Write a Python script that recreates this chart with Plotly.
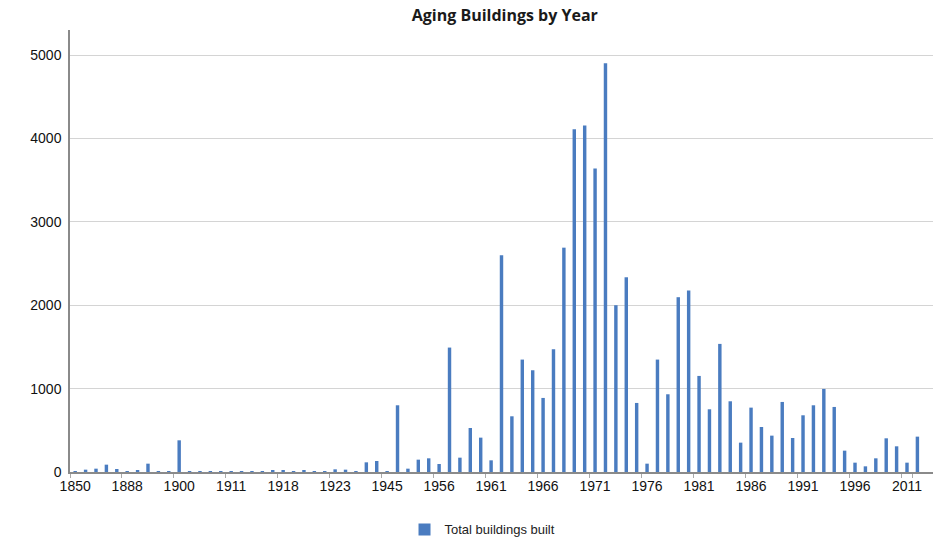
import plotly.graph_objects as go

years = [1850, 1860, 1870, 1875, 1880, 1888, 1890, 1895, 1897, 1899,
         1900, 1902, 1905, 1907, 1910, 1911, 1912, 1914, 1915, 1916,
         1918, 1919, 1920, 1921, 1922, 1923, 1925, 1928, 1930, 1940,
         1945, 1946, 1950, 1952, 1954,
         1956, 1957, 1958, 1959, 1960, 1961, 1962, 1963, 1964, 1965,
         1966, 1967, 1968, 1969, 1970, 1971, 1972, 1973, 1974, 1975,
         1976, 1977, 1978, 1979, 1980, 1981, 1982, 1983, 1984, 1985,
         1986, 1987, 1988, 1989, 1990, 1991, 1992, 1993, 1994, 1995,
         1996, 1998, 2000, 2003, 2005, 2011, 2012]

buildings = [5, 28, 40, 88, 36, 12, 20, 100, 1, 1,
             380, 1, 8, 1, 4, 1, 6, 1, 1, 20,
             20, 12, 15, 1, 12, 32, 28, 1, 116, 132,
             12, 800, 40, 148, 164,
             96, 1492, 172, 528, 412, 140, 2600, 668, 1348, 1220,
             888, 1472, 2690, 4110, 4155, 3640, 4900, 2000, 2335, 828,
             100, 1348, 932, 2096, 2176, 1152, 752, 1536, 848, 352,
             772, 540, 436, 840, 408, 680, 800, 996, 780, 256,
             112, 68, 164, 404, 308, 112, 424]

categories = [str(y) for y in years]
tick_vals = categories[::5]
tick_text = tick_vals

fig = go.Figure()
fig.add_trace(go.Bar(
    x=categories, y=buildings, name="Total buildings built",
    marker=dict(color="#4a7cc0", line=dict(width=0)),
    width=0.33,
))

fig.update_layout(
    width=940, height=539,
    paper_bgcolor="white", plot_bgcolor="white",
    margin=dict(l=70, r=7, t=30, b=67, autoexpand=False),
    title=dict(text="<b>Aging Buildings by Year</b>", x=0.537, xanchor="center",
               y=0.972, yanchor="middle",
               font=dict(family="Open Sans, Lato, sans-serif", size=16, color="#1a1a1a")),
    showlegend=True,
    legend=dict(orientation="h", x=0.478, xanchor="center", y=-0.13, yanchor="middle",
                font=dict(family="Liberation Sans, Arial, sans-serif", size=13, color="#222")),
    bargap=0.67,
)
fig.update_xaxes(
    type="category", tickmode="array", tickvals=tick_vals, ticktext=tick_text,
    range=[-0.5, 82.5], tickson="boundaries", tickangle=0, automargin=False,
    showline=True, linecolor="#8a8a8a", linewidth=1.5,
    ticks="outside", ticklen=4, tickcolor="#aaaaaa",
    showgrid=False,
    tickfont=dict(family="Liberation Sans, Arial, sans-serif", size=14, color="#111"),
)
fig.update_yaxes(
    range=[0, 5300], tickvals=[0, 1000, 2000, 3000, 4000, 5000],
    showline=True, linecolor="#8a8a8a", linewidth=1.5, automargin=False,
    showgrid=True, gridcolor="#d4d4d4", gridwidth=1,
    zeroline=False, ticks="", ticklabelstandoff=4,
    tickfont=dict(family="Liberation Sans, Arial, sans-serif", size=14, color="#111"),
)

fig.write_html("out.html", config={"displayModeBar": False},
               post_script="document.body.style.margin='0px';document.body.style.overflow='hidden';")
